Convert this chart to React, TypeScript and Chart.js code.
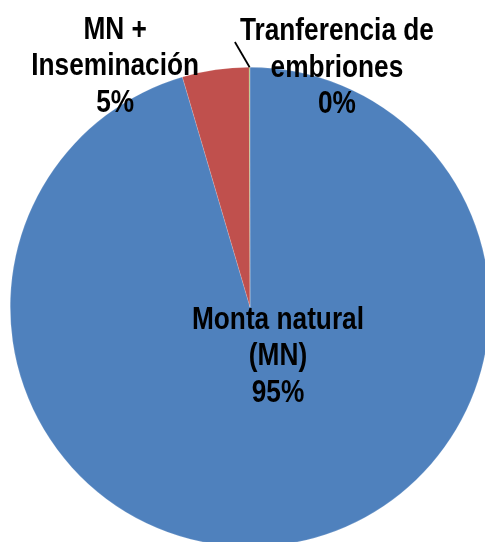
import React, { useEffect, useRef } from "react";
import { Chart, registerables } from "chart.js";

Chart.register(...registerables);

const categories = ["Monta natural (MN)", "MN + Inseminación", "Tranferencia de embriones"];
const values = [95.45, 4.5, 0.05];
const percentLabels = ["95%", "5%", "0%"];
const labelLines = [["Monta natural", "(MN)", "95%"], ["MN +", "Inseminación", "5%"], ["Tranferencia de", "embriones", "0%"]];
const colors = ["#4F81BD", "#C0504D", "#9BBB59"];

const FONT = 'bold 32px "Liberation Sans", Arial, sans-serif';
const NARROW = 0.82;

const labelPlugin = {
  id: "pieLabels",
  afterDraw(chart: any) {
    const ctx = chart.ctx;
    const meta = chart.getDatasetMeta(0);
    const arc0 = meta.data[0];
    const cx = arc0.x;
    const cy = arc0.y;
    const r = arc0.outerRadius;
    ctx.save();
    ctx.font = FONT;
    ctx.fillStyle = "#000";
    ctx.textAlign = "center";
    ctx.textBaseline = "alphabetic";
    const lh = 36.5;
    const anchors = [
      [0.1167, 0.0917],
      [-0.5625, -1.118],
      [0.3625, -1.112],
    ];
    labelLines.forEach((lines, i) => {
      const x = cx + anchors[i][0] * r;
      const y0 = cy + anchors[i][1] * r;
      lines.forEach((t, j) => {
        ctx.save();
        ctx.translate(x, y0 + j * lh);
        ctx.scale(NARROW, 1);
        ctx.fillText(t, 0, 0);
        ctx.restore();
      });
    });
    const a = meta.data[2];
    const mid = (a.startAngle + a.endAngle) / 2;
    const ex = cx + Math.cos(mid) * r;
    const ey = cy + Math.sin(mid) * r;
    ctx.strokeStyle = "#000";
    ctx.lineWidth = 1.8;
    ctx.beginPath();
    ctx.moveTo(ex, ey);
    ctx.lineTo(cx - 0.063 * r, cy - 1.105 * r);
    ctx.stroke();
    ctx.restore();
  },
};

export default function App() {
  const ref = useRef<HTMLCanvasElement>(null);
  useEffect(() => {
    const canvas = ref.current!;
    const chart = new Chart(canvas, {
      type: "pie",
      data: {
        labels: categories,
        datasets: [
          {
            data: values,
            backgroundColor: colors,
            borderColor: "rgba(255,255,255,0.3)",
            borderWidth: 0.5,
          },
        ],
      },
      options: {
        responsive: false,
        animation: false,
        rotation: 0,
        layout: { padding: { top: 67, bottom: 13, left: 10, right: 10 } },
        plugins: {
          legend: { display: false },
          tooltip: { enabled: false },
        },
      },
      plugins: [labelPlugin],
    });
    return () => chart.destroy();
  }, []);
  return (
    <div style={{ position: "fixed", left: 0, top: 0, width: 485, height: 542, overflow: "hidden", background: "#fff" }}>
      <canvas ref={ref} width={500} height={560} style={{ display: "block", width: 500, height: 560 }} />
    </div>
  );
}
